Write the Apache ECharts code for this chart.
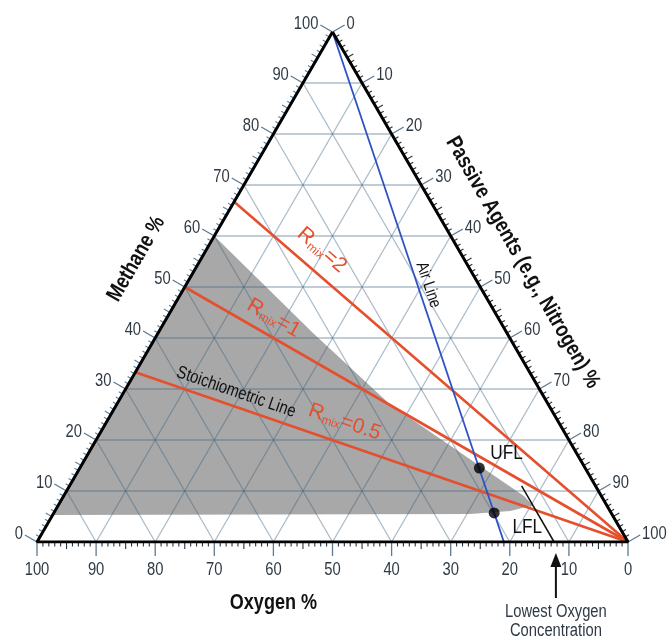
<!DOCTYPE html>
<html><head><meta charset="utf-8">
<script src="https://cdn.jsdelivr.net/npm/echarts@6/dist/echarts.min.js"></script>
<style>html,body{margin:0;padding:0;background:#fff}#c{width:669px;height:642px}</style>
</head><body><div id="c"></div>
<script>
// Ternary points: [methane %, oxygen %, nitrogen %]
const gridLevels = [10, 20, 30, 40, 50, 60, 70, 80, 90];
const methaneTickLabels = ['0','10','20','30','40','50','60','70','80','90','100'];
const oxygenTickLabels = ['0','10','20','30','40','50','60','70','80','90','100'];
const nitrogenTickLabels = ['0','10','20','30','40','50','60','70','80','90','100'];
const airLine = [[100, 0, 0], [0, 21, 79]];
const rmix2Line = [[66.7, 33.3, 0], [0, 0, 100]];
const rmix1Line = [[50, 50, 0], [0, 0, 100]];
const rmix05Line = [[33.3, 66.7, 0], [0, 0, 100]];
const flammableRegion = [[60, 40, 0], [41, 32.8, 26.2], [27, 26.8, 46.2], [14.9, 17.6, 67.5], [9, 13.1, 77.9], [7.2, 12.5, 80.3], [6.1, 16.9, 77], [5.5, 24, 70.5], [5.3, 94.7, 0]];
const locLine = [[11, 12.5, 76.5], [0, 12.5, 87.5]];
const flammabilityPoints = [[14.5, 17.9, 67.6], [5.7, 19.8, 74.5]];
const lowestOxygen = 12.2;

const SQ = Math.sqrt(3) / 2;
function toXY(p) { const s = p[0] + p[1] + p[2]; const m = p[0] / s * 100, n = p[2] / s * 100; return [n + m / 2, m * SQ]; }
function axisPoint(a, v) { return a === 0 ? [v, 100 - v, 0] : a === 1 ? [0, v, 100 - v] : [100 - v, 0, v]; }
const NORMALS = [[-0.866, -0.5], [0, 1], [0.866, -0.5]];
const SANS = '"Liberation Sans",Arial,sans-serif';
const NX = 0.82; // horizontal squeeze to imitate a narrow face

function ntext(x, y, text, font, align, valign, rot, color, extra) {
  const st = Object.assign({ text: text, font: font + ' ' + SANS, fill: color || '#111', align: align, verticalAlign: valign }, extra || {});
  return { type: 'text', x: x, y: y, rotation: rot || 0, scaleX: NX, style: st };
}

const gridSegments = [];
gridLevels.forEach(k => {
  gridSegments.push([[k, 100 - k, 0], [k, 0, 100 - k]]);
  gridSegments.push([[100 - k, k, 0], [0, k, 100 - k]]);
  gridSegments.push([[100 - k, 0, k], [0, 100 - k, k]]);
});
const tickData = [];
for (let a = 0; a < 3; a++) for (let v = 0; v <= 100; v++) tickData.push([a, v]);
const tickLabelSets = [methaneTickLabels, oxygenTickLabels, nitrogenTickLabels];

function lineSeries(pts, color, width, z) {
  return { type: 'line', data: pts.map(toXY), showSymbol: false, symbol: 'none', silent: true, z: z,
    lineStyle: { color: color, width: width }, animation: false };
}

const chart = echarts.init(document.getElementById('c'));
chart.setOption({
  animation: false,
  grid: { left: 37, top: 32, width: 591, height: 510 },
  xAxis: { type: 'value', min: 0, max: 100, show: false },
  yAxis: { type: 'value', min: 0, max: 86.6025, show: false },
  series: [
    { type: 'custom', z: 1, silent: true, data: [0], renderItem: (params, api) => ({
        type: 'polygon', shape: { points: flammableRegion.map(p => api.coord(toXY(p))) },
        style: { fill: '#a8a8a8' } }) },
    { type: 'custom', z: 2, silent: true, data: gridSegments.map((s, i) => i), renderItem: (params, api) => {
        const s = gridSegments[params.dataIndex];
        const a = api.coord(toXY(s[0])), b = api.coord(toXY(s[1]));
        return { type: 'line', shape: { x1: a[0], y1: a[1], x2: b[0], y2: b[1] }, style: { stroke: 'rgba(55,95,125,0.42)', lineWidth: 1.3 } };
      } },
    lineSeries(rmix2Line, '#e4502e', 2.6, 3),
    lineSeries(rmix1Line, '#e4502e', 2.6, 3),
    lineSeries(rmix05Line, '#e4502e', 2.6, 3),
    lineSeries(airLine, '#2d52c8', 1.8, 3),
    lineSeries(locLine, '#111', 1.5, 3),
    lineSeries([[100, 0, 0], [0, 0, 100], [0, 100, 0], [100, 0, 0]], '#000', 3, 4),
    { type: 'custom', z: 4, silent: true, data: tickData, renderItem: (params, api) => {
        const a = api.value(0), v = api.value(1);
        const p = api.coord(toXY(axisPoint(a, v)));
        const nrm = NORMALS[a];
        const major = v % 10 === 0;
        const len = major ? 14 : (v % 5 === 0 ? 7 : 4.5);
        const ex = p[0] + nrm[0] * len, ey = p[1] + nrm[1] * len;
        const color = major ? '#5d7a92' : (a === 0 ? '#5b84a8' : '#2a3440');
        const children = [{ type: 'line', shape: { x1: p[0], y1: p[1], x2: ex, y2: ey }, style: { stroke: color, lineWidth: major ? 1.3 : 1.1 } }];
        if (major) {
          const txt = tickLabelSets[a][v / 10];
          if (a === 0) children.push(ntext(ex - 2, ey - 1, txt, '18px', 'right', 'middle', 0, '#2f3a44'));
          else if (a === 1) children.push(ntext(ex, ey + 5, txt, '18px', 'center', 'top', 0, '#2f3a44'));
          else children.push(ntext(ex + 2, ey - 1, txt, '18px', 'left', 'middle', 0, '#2f3a44'));
        }
        return { type: 'group', children: children };
      } },
    { type: 'scatter', z: 5, silent: true, data: flammabilityPoints.map(toXY), symbolSize: 11, itemStyle: { color: '#000' } },
    { type: 'custom', z: 6, silent: true, data: [0], renderItem: (params, api) => {
        const C = p => api.coord(toXY(p));
        const ang = l => { const a = C(l[0]), b = C(l[1]); return Math.atan2(-(b[1] - a[1]), b[0] - a[0]); };
        const off = (p, a, d) => { const q = C(axisPoint(a, p)); return [q[0] + NORMALS[a][0] * d, q[1] + NORMALS[a][1] * d]; };
        const rich = { r: { fontSize: 21, fontFamily: SANS, fill: '#e4502e', lineHeight: 22 }, s: { fontSize: 12, fontFamily: SANS, fill: '#e4502e', verticalAlign: 'bottom', lineHeight: 12 } };
        const rLabel = (pos, val, line) => { const q = C(pos); return { type: 'text', x: q[0], y: q[1], rotation: ang(line), style: { text: '{r|R}{s|mix}{r|=' + val + '}', rich: rich, align: 'center', verticalAlign: 'middle' } }; };
        const at = (pos, text, font, rot, color) => { const q = C(pos); return ntext(q[0], q[1], text, font, 'center', 'middle', rot, color); };
        const ox = off(lowestOxygen, 1, 0);
        const mt = off(50, 0, 56), nt = off(50, 2, 49), ot = off(60, 1, 61);
        return { type: 'group', children: [
          rLabel([57.3, 23.2, 19.6], '2', rmix2Line),
          rLabel([43.9, 38, 18.1], '1', rmix1Line),
          rLabel([23.5, 36.2, 40.3], '0.5', rmix05Line),
          at([29.4, 51.6, 19], 'Stoichiometric Line', '18px', ang(rmix05Line)),
          at([50.4, 8.6, 41], 'Air Line', '17px', ang(airLine)),
          at([17.5, 11.8, 70.7], 'UFL', '21px', 0),
          at([2.9, 15.6, 81.5], 'LFL', '21px', 0),
          ntext(mt[0], mt[1], 'Methane %', 'bold 22px', 'center', 'middle', Math.PI / 3),
          ntext(nt[0], nt[1], 'Passive Agents (e.g., Nitrogen) %', 'bold 22px', 'center', 'middle', -Math.PI / 3),
          ntext(ot[0], ot[1], 'Oxygen %', 'bold 22px', 'center', 'middle', 0),
          { type: 'line', shape: { x1: ox[0], y1: ox[1] + 22, x2: ox[0], y2: ox[1] + 56 }, style: { stroke: '#111', lineWidth: 2 } },
          { type: 'polygon', shape: { points: [[ox[0], ox[1] + 11], [ox[0] - 5.5, ox[1] + 25], [ox[0] + 5.5, ox[1] + 25]] }, style: { fill: '#111' } },
          ntext(ox[0], ox[1] + 61, 'Lowest Oxygen\nConcentration', '18px', 'center', 'top', 0, '#2f3a44', { lineHeight: 19 })
        ] };
      } }
  ]
});
</script></body></html>
